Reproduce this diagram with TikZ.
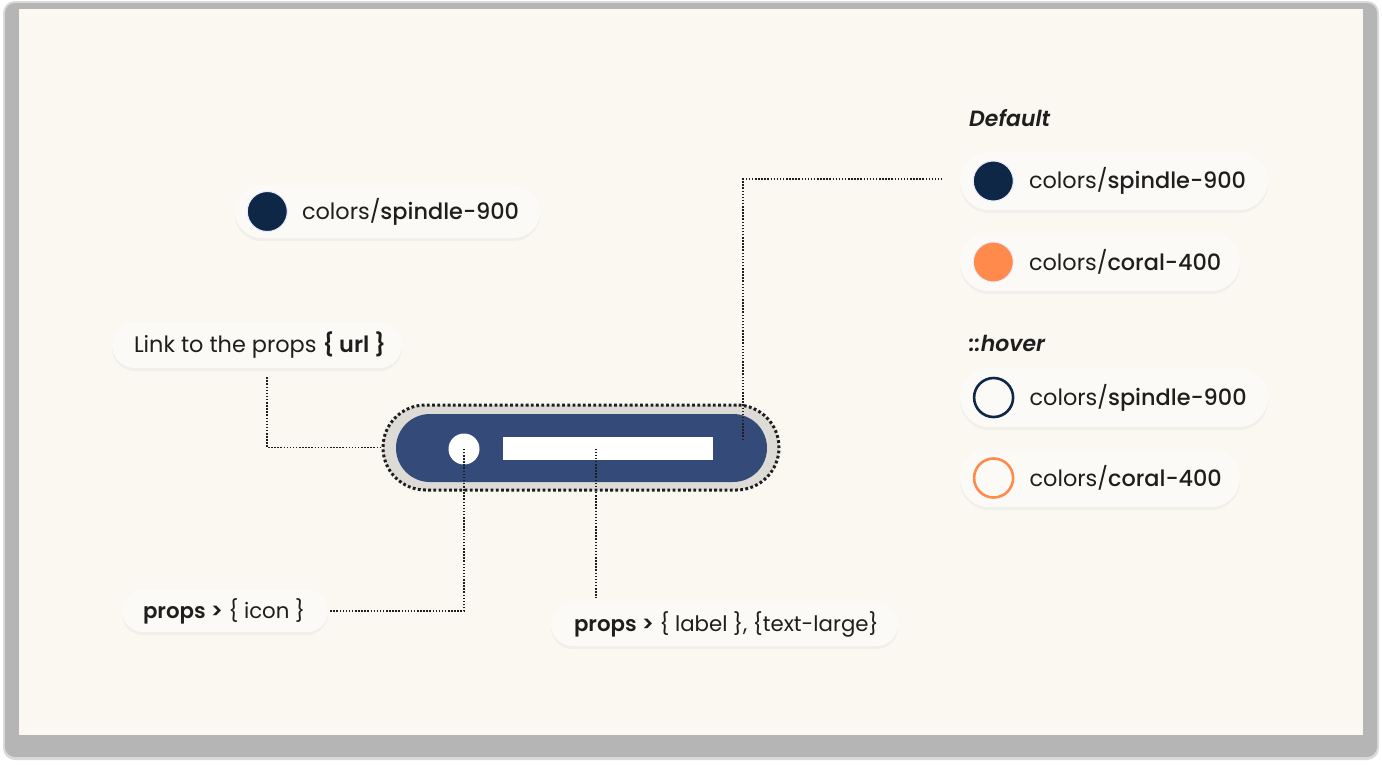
\documentclass[tikz,border=0pt]{standalone}
\usepackage{fontspec}
\setmainfont{Poppins}[BoldFont={Poppins Medium},BoldItalicFont={Poppins SemiBold Italic}]
\newfontfamily\semib{Poppins SemiBold}
\usetikzlibrary{positioning,shadows}

\definecolor{cardbg}{RGB}{250,248,241}
\definecolor{chipbg}{RGB}{251,250,246}
\definecolor{framegray}{RGB}{181,181,181}
\definecolor{spindle}{RGB}{15,39,71}
\definecolor{btnblue}{RGB}{52,74,121}
\definecolor{btnring}{RGB}{221,219,214}
\definecolor{coral}{RGB}{255,138,76}
\definecolor{ink}{RGB}{30,30,30}

\tikzset{
  chip/.style={rounded corners=#1/2, minimum height=#1, inner sep=0pt, fill=chipbg,
    drop shadow={opacity=0.07, shadow xshift=0pt, shadow yshift=-3pt}},
  swatch/.style={circle, minimum size=40, inner sep=0pt, fill=#1, draw=blue!8, line width=1pt},
  ring/.style={circle, minimum size=39, inner sep=0pt, draw=#1, line width=2.6pt},
  txt/.style={anchor=west, inner sep=0pt, text=ink, font=\fontsize{22.4}{26}\selectfont},
  proptxt/.style={txt, font=\fontsize{21.3}{26}\selectfont},
  head/.style={anchor=west, inner sep=0pt, text=ink, font=\fontsize{22}{26}\selectfont\bfseries\itshape},
  link/.style={draw=ink, line width=1.5pt, dash pattern=on 1.5pt off 1.6pt},
}

\begin{document}
\begin{tikzpicture}[x=1pt,y=-1pt]
  % page and card
  \useasboundingbox (0,0) rectangle (1382,764);
  \fill[white] (0,0) rectangle (1382,764);
  \fill[framegray!50, rounded corners=12] (3,1) rectangle (1379,760);
  \fill[framegray, rounded corners=10] (5,3) rectangle (1377,757);
  \fill[cardbg] (19,9) rectangle (1363,735);

  % button
  \node[rounded corners=42.5, minimum width=396, minimum height=85, inner sep=0pt,
    fill=btnring, draw=ink, line width=3pt, dash pattern=on 2.8pt off 2.4pt] (btn) at (581,447.5) {};
  \node[rounded corners=34, minimum width=371, minimum height=68, inner sep=0pt, fill=btnblue] (btnin) at (581.5,448) {};
  \node[circle, fill=white, minimum size=31, inner sep=0pt] (icon) at (464,449) {};
  \node[fill=white, minimum width=210, minimum height=23, inner sep=0pt] (bar) at (608,448.5) {};

  % left labels
  \node[chip=53, minimum width=305] (base) at (387.5,211.5) {};
  \node[swatch=spindle, right=12pt of base.west] (basesw) {};
  \node[txt, right=14pt of basesw] (basetxt) {colors/\textbf{spindle-900}};

  \node[chip=46, minimum width=290] (url) at (257,345) {};
  \node[txt, right=22pt of url.west] (urltxt) {Link to the props {\semib\{ url \}}};

  \node[chip=42, minimum width=206] (iconchip) at (225,611) {};
  \node[proptxt, right=21pt of iconchip.west] (icontxt) {{\semib props >} \{ icon \}};

  \node[chip=43, minimum width=347] (lbl) at (724.5,624.5) {};
  \node[proptxt, right=23pt of lbl.west] (lbltxt) {{\semib props >} \{ label \}, \{text-large\}};

  % right column
  \node[head] (deflt) at (969,118) {Default};
  \node[chip=58, minimum width=308] (c1) at (1114,181) {};
  \node[swatch=spindle, right=13pt of c1.west] (c1sw) {};
  \node[txt, right=15pt of c1sw] (c1txt) {colors/\textbf{spindle-900}};

  \node[chip=58, minimum width=280] (c2) at (1100,262) {};
  \node[swatch=coral, right=13pt of c2.west] (c2sw) {};
  \node[txt, right=15pt of c2sw] (c2txt) {colors/\textbf{coral-400}};

  \node[head] (hover) at (969,343) {::hover};
  \node[chip=59, minimum width=308] (c3) at (1114,397.5) {};
  \node[ring=spindle, right=13pt of c3.west] (c3sw) {};
  \node[txt, right=15pt of c3sw] (c3txt) {colors/\textbf{spindle-900}};

  \node[chip=58, minimum width=280] (c4) at (1100,478) {};
  \node[ring=coral, right=13pt of c4.west] (c4sw) {};
  \node[txt, right=15pt of c4sw] (c4txt) {colors/\textbf{coral-400}};

  % dotted links
  \draw[link] ([shift={(10,9)}]url.south) |- (btn.west);
  \draw[link] ([xshift=2pt]iconchip.east) -| (icon.center);
  \draw[link, shorten >=5pt] ([xshift=-12pt]bar.center) -- ([xshift=-12pt]bar.center |- lbl.north);
  \draw[link] ([xshift=-24pt,yshift=8pt]btnin.east) |- ([xshift=-18pt,yshift=2pt]c1.west);
\end{tikzpicture}
\end{document}
